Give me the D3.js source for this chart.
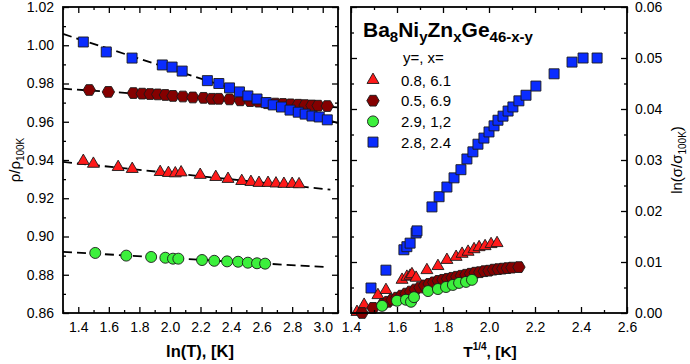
<!DOCTYPE html>
<html><head><meta charset="utf-8">
<script src="https://cdn.jsdelivr.net/npm/d3@7"></script>
<style>
body{margin:0;background:#fff;}
svg text{font-family:"Liberation Sans",Arial,sans-serif;}
</style></head>
<body><svg id="c" width="690" height="364"></svg>
<script>
// ---------- DATA ----------
// Left panel: rho/rho100K vs ln(T)
const rhoTriangle = [[1.433,0.9395],[1.499,0.938],[1.661,0.9363],[1.753,0.9353],[1.936,0.9337],[1.99,0.9332],[2.035,0.933],[2.073,0.9335],[2.198,0.9322],[2.30,0.9311],[2.38,0.9301],[2.47,0.929],[2.53,0.9285],[2.583,0.928],[2.642,0.928],[2.694,0.9277],[2.746,0.9275],[2.80,0.9275],[2.845,0.9273]];
const rhoHexagon = [[1.472,0.9766],[1.597,0.9756],[1.761,0.9750],[1.818,0.9747],[1.87,0.9745],[1.92,0.9743],[1.97,0.974],[2.02,0.9735],[2.085,0.9732],[2.15,0.9727],[2.22,0.9725],[2.275,0.972],[2.32,0.972],[2.39,0.9717],[2.46,0.9712],[2.525,0.9708],[2.58,0.9705],[2.635,0.9697],[2.69,0.9695],[2.74,0.9693],[2.79,0.9691],[2.84,0.9689],[2.885,0.9687],[2.93,0.9685],[2.97,0.9684],[3.03,0.9682]];
const rhoCircle = [[1.511,0.8914],[1.714,0.8900],[1.877,0.8893],[1.97,0.8889],[2.02,0.8884],[2.055,0.8884],[2.21,0.8877],[2.29,0.8873],[2.374,0.887],[2.446,0.8868],[2.51,0.8863],[2.57,0.886],[2.623,0.8858]];
const rhoSquare = [[1.433,1.0017],[1.583,0.9965],[1.752,0.9933],[1.95,0.9897],[2.014,0.9886],[2.08,0.9865],[2.245,0.9815],[2.32,0.980],[2.39,0.9777],[2.455,0.9756],[2.51,0.9735],[2.57,0.9719],[2.63,0.970],[2.676,0.9688],[2.73,0.9677],[2.786,0.9661],[2.84,0.965],[2.885,0.964],[2.93,0.963],[2.977,0.9625],[3.03,0.961]];
// dashed fit lines (end points)
const fitTriangle = [[1.3,0.9390],[3.05,0.9245]];
const fitHexagon = [[1.3,0.9773],[3.1,0.9675]];
const fitCircle = [[1.3,0.8920],[3.02,0.8840]];
const fitSquare = [[1.3,1.0059],[3.1,0.9593]];
// Right panel: ln(sigma/sigma100K) vs T^1/4
const sigTriangle = [[1.426,0.0002],[1.457,0.0016],[1.517,0.0035],[1.552,0.0045],[1.622,0.0065],[1.643,0.0071],[1.657,0.0073],[1.665,0.0076],[1.683,0.0069],[1.730,0.0084],[1.778,0.0092],[1.817,0.0104],[1.857,0.0110],[1.883,0.0116],[1.909,0.0120],[1.935,0.0125],[1.957,0.0129],[1.983,0.0131],[2.009,0.0135],[2.035,0.0137]];
const sigHexagon = [[1.448,0.0000],[1.496,0.0010],[1.540,0.0018],[1.560,0.0022],[1.580,0.0026],[1.600,0.0030],[1.620,0.0034],[1.640,0.0038],[1.660,0.0042],[1.680,0.0046],[1.700,0.0050],[1.720,0.0054],[1.740,0.0057],[1.760,0.0060],[1.780,0.0063],[1.800,0.0065],[1.820,0.0067],[1.840,0.0069],[1.860,0.0071],[1.880,0.0073],[1.900,0.0075],[1.920,0.0077],[1.940,0.0079],[1.960,0.0080],[1.980,0.0082],[2.000,0.0083],[2.020,0.0085],[2.040,0.0086],[2.060,0.0087],[2.080,0.0088],[2.100,0.0089],[2.130,0.0090]];
const sigCircle = [[1.535,0.0014],[1.600,0.0024],[1.639,0.0026],[1.661,0.0022],[1.674,0.0031],[1.735,0.0043],[1.778,0.0047],[1.813,0.0051],[1.843,0.0055],[1.870,0.0059],[1.900,0.0061],[1.926,0.0065]];
const sigSquare = [[1.487,0.0049],[1.552,0.0084],[1.630,0.0124],[1.643,0.0130],[1.657,0.0137],[1.683,0.0157],[1.687,0.0161],[1.752,0.0208],[1.783,0.0228],[1.817,0.0247],[1.848,0.0265],[1.878,0.0281],[1.904,0.0302],[1.930,0.0316],[1.952,0.0331],[1.978,0.0343],[2.000,0.0355],[2.022,0.0367],[2.039,0.0378],[2.061,0.0386],[2.083,0.0396],[2.104,0.0404],[2.130,0.0416],[2.161,0.0427],[2.204,0.0445],[2.283,0.0469],[2.361,0.0492],[2.409,0.0500],[2.470,0.0500]];
// ticks
const leftXTicks = [1.4,1.6,1.8,2.0,2.2,2.4,2.6,2.8,3.0];
const leftXMinor = [1.3,1.5,1.7,1.9,2.1,2.3,2.5,2.7,2.9,3.1];
const leftYTicks = [0.86,0.88,0.90,0.92,0.94,0.96,0.98,1.00,1.02];
const leftYMinor = [0.87,0.89,0.91,0.93,0.95,0.97,0.99,1.01];
const rightXTicks = [1.4,1.6,1.8,2.0,2.2,2.4,2.6];
const rightXMinor = [1.5,1.7,1.9,2.1,2.3,2.5];
const rightYTicks = [0,0.01,0.02,0.03,0.04,0.05,0.06];
const rightYMinor = [0.005,0.015,0.025,0.035,0.045,0.055];
const legendLabels = ["0.8, 6.1","0.5, 6.9","2.9, 1,2","2.8, 2.4"];

// ---------- STYLE ----------
const colors = {tri:"#ff1a1a", hex:"#850000", cir:"#3cf03c", sq:"#0a2cff"};
const svg = d3.select("#c");
const plotTop = 7, plotBottom = 313;
const xL = d3.scaleLinear().domain([1.3,3.1]).range([63,338]);
const yL = d3.scaleLinear().domain([0.86,1.02]).range([plotBottom,plotTop]);
const xR = d3.scaleLinear().domain([1.4,2.6]).range([351,627]);
const yR = d3.scaleLinear().domain([0,0.06]).range([plotBottom,plotTop]);

function hexPath(r){
  const p=[];for(let i=0;i<6;i++){const a=Math.PI/3*i;p.push([r*Math.cos(a),r*Math.sin(a)]);}
  return "M"+p.map(d=>d.join(",")).join("L")+"Z";
}
const shapes = {
  tri: d3.symbol().type(d3.symbolTriangle).size(62)(),
  hex: hexPath(6.2),
  cir: d3.symbol().type(d3.symbolCircle).size(95)(),
  sq: d3.symbol().type(d3.symbolSquare).size(100)()
};
function drawPoints(g, data, key, xs, ys){
  g.append("g").selectAll("path").data(data).join("path")
    .attr("d", shapes[key])
    .attr("transform", d=>`translate(${xs(d[0])},${ys(d[1])})`)
    .attr("fill", colors[key]).attr("stroke","#1a1a1a").attr("stroke-width",0.9);
}
function drawFit(g, data, xs, ys){
  g.append("path").datum(data)
    .attr("d", d3.line().x(d=>xs(d[0])).y(d=>ys(d[1])))
    .attr("fill","none").attr("stroke","#000").attr("stroke-width",1.8)
    .attr("stroke-dasharray","9,5");
}
function axes(xs, ys, xT, xM, yT, yM, xFmt, yFmt, yLabelSide){
  const g = svg.append("g");
  const [x0,x1] = xs.range(); const [y0,y1] = ys.range();
  const st = sel => { sel.select(".domain").remove(); sel.selectAll("line").attr("stroke","#000").attr("stroke-width",1.3);
    sel.selectAll("text").attr("font-size","14px").attr("fill","#000").style("font-family",'"Liberation Sans",Arial,sans-serif'); };
  g.append("g").attr("transform",`translate(0,${y0})`).call(d3.axisBottom(xs).tickValues(xT).tickSize(-6).tickPadding(9).tickFormat(xFmt)).call(st);
  g.append("g").attr("transform",`translate(0,${y0})`).call(d3.axisBottom(xs).tickValues(xM).tickSize(-3).tickFormat("")).call(st);
  g.append("g").attr("transform",`translate(0,${y1})`).call(d3.axisTop(xs).tickValues(xT).tickSize(-6).tickFormat("")).call(st);
  g.append("g").attr("transform",`translate(0,${y1})`).call(d3.axisTop(xs).tickValues(xM).tickSize(-3).tickFormat("")).call(st);
  g.append("g").attr("transform",`translate(${x0},0)`).call(d3.axisLeft(ys).tickValues(yT).tickSize(-6).tickPadding(9).tickFormat(yLabelSide==="left"?yFmt:"")).call(st);
  g.append("g").attr("transform",`translate(${x0},0)`).call(d3.axisLeft(ys).tickValues(yM).tickSize(-3).tickFormat("")).call(st);
  g.append("g").attr("transform",`translate(${x1},0)`).call(d3.axisRight(ys).tickValues(yT).tickSize(-6).tickPadding(8).tickFormat(yLabelSide==="right"?yFmt:"")).call(st);
  g.append("g").attr("transform",`translate(${x1},0)`).call(d3.axisRight(ys).tickValues(yM).tickSize(-3).tickFormat("")).call(st);
  g.append("rect").attr("x",x0).attr("y",y1).attr("width",x1-x0).attr("height",y0-y1)
    .attr("fill","none").attr("stroke","#000").attr("stroke-width",1.8);
}

// ---------- LEFT PANEL ----------
const gl = svg.append("g");
[fitTriangle,fitHexagon,fitCircle,fitSquare].forEach(f=>drawFit(gl,f,xL,yL));
drawPoints(gl, rhoTriangle, "tri", xL, yL);
drawPoints(gl, rhoHexagon, "hex", xL, yL);
drawPoints(gl, rhoCircle, "cir", xL, yL);
drawPoints(gl, rhoSquare, "sq", xL, yL);
axes(xL, yL, leftXTicks, leftXMinor, leftYTicks, leftYMinor, d3.format(".1f"), d3.format(".2f"), "left");

// ---------- RIGHT PANEL ----------
const gr = svg.append("g");
drawPoints(gr, sigSquare, "sq", xR, yR);
drawPoints(gr, sigTriangle, "tri", xR, yR);
drawPoints(gr, sigHexagon, "hex", xR, yR);
drawPoints(gr, sigCircle, "cir", xR, yR);
axes(xR, yR, rightXTicks, rightXMinor, rightYTicks, rightYMinor, d3.format(".1f"), d3.format(".2f"), "right");

// ---------- TITLES ----------
svg.append("text").attr("x",200).attr("y",357).attr("text-anchor","middle")
  .attr("font-size","16.5px").attr("font-weight","bold").text("ln(T), [K]");
const t2 = svg.append("text").attr("x",490).attr("y",357).attr("text-anchor","middle")
  .attr("font-size","15.5px").attr("font-weight","bold");
t2.append("tspan").text("T");
t2.append("tspan").attr("font-size","10px").attr("dy","-7").text("1/4");
t2.append("tspan").attr("dy","7").text(", [K]");

const yl = svg.append("text").attr("transform","translate(20,160) rotate(-90)").attr("text-anchor","middle")
  .attr("font-size","15px");
yl.append("tspan").text("ρ/ρ");
yl.append("tspan").attr("font-size","10px").attr("dy","4").text("100K");

const yr = svg.append("text").attr("transform","translate(682,160) rotate(-90)").attr("text-anchor","middle")
  .attr("font-size","15px");
yr.append("tspan").text("ln(σ/σ");
yr.append("tspan").attr("font-size","10px").attr("dy","4").text("100K");
yr.append("tspan").attr("dy","-4").text(")");

// ---------- LEGEND ----------
const lt = svg.append("text").attr("x",363).attr("y",37).attr("font-size","21px").attr("font-weight","bold");
[["Ba",0],["8",1],["Ni",0],["y",1],["Zn",0],["x",1],["Ge",0],["46-x-y",1]].forEach(([s,sub],i,arr)=>{
  const prevSub = i>0 ? arr[i-1][1] : 0;
  const dy = sub && !prevSub ? 5 : (!sub && prevSub ? -5 : 0);
  lt.append("tspan").attr("font-size", sub?"15px":"21px").attr("dy",dy).text(s);
});
svg.append("text").attr("x",403).attr("y",63).attr("font-size","15px").text("y=, x=");
const legKeys = ["tri","hex","cir","sq"];
legKeys.forEach((k,i)=>{
  const cy = 80 + i*20.7;
  svg.append("path").attr("d",shapes[k]).attr("transform",`translate(373,${cy})`)
    .attr("fill",colors[k]).attr("stroke","#1a1a1a").attr("stroke-width",0.9);
  svg.append("text").attr("x",401).attr("y",cy+5.5).attr("font-size","15px").text(legendLabels[i]);
});
</script></body></html>
